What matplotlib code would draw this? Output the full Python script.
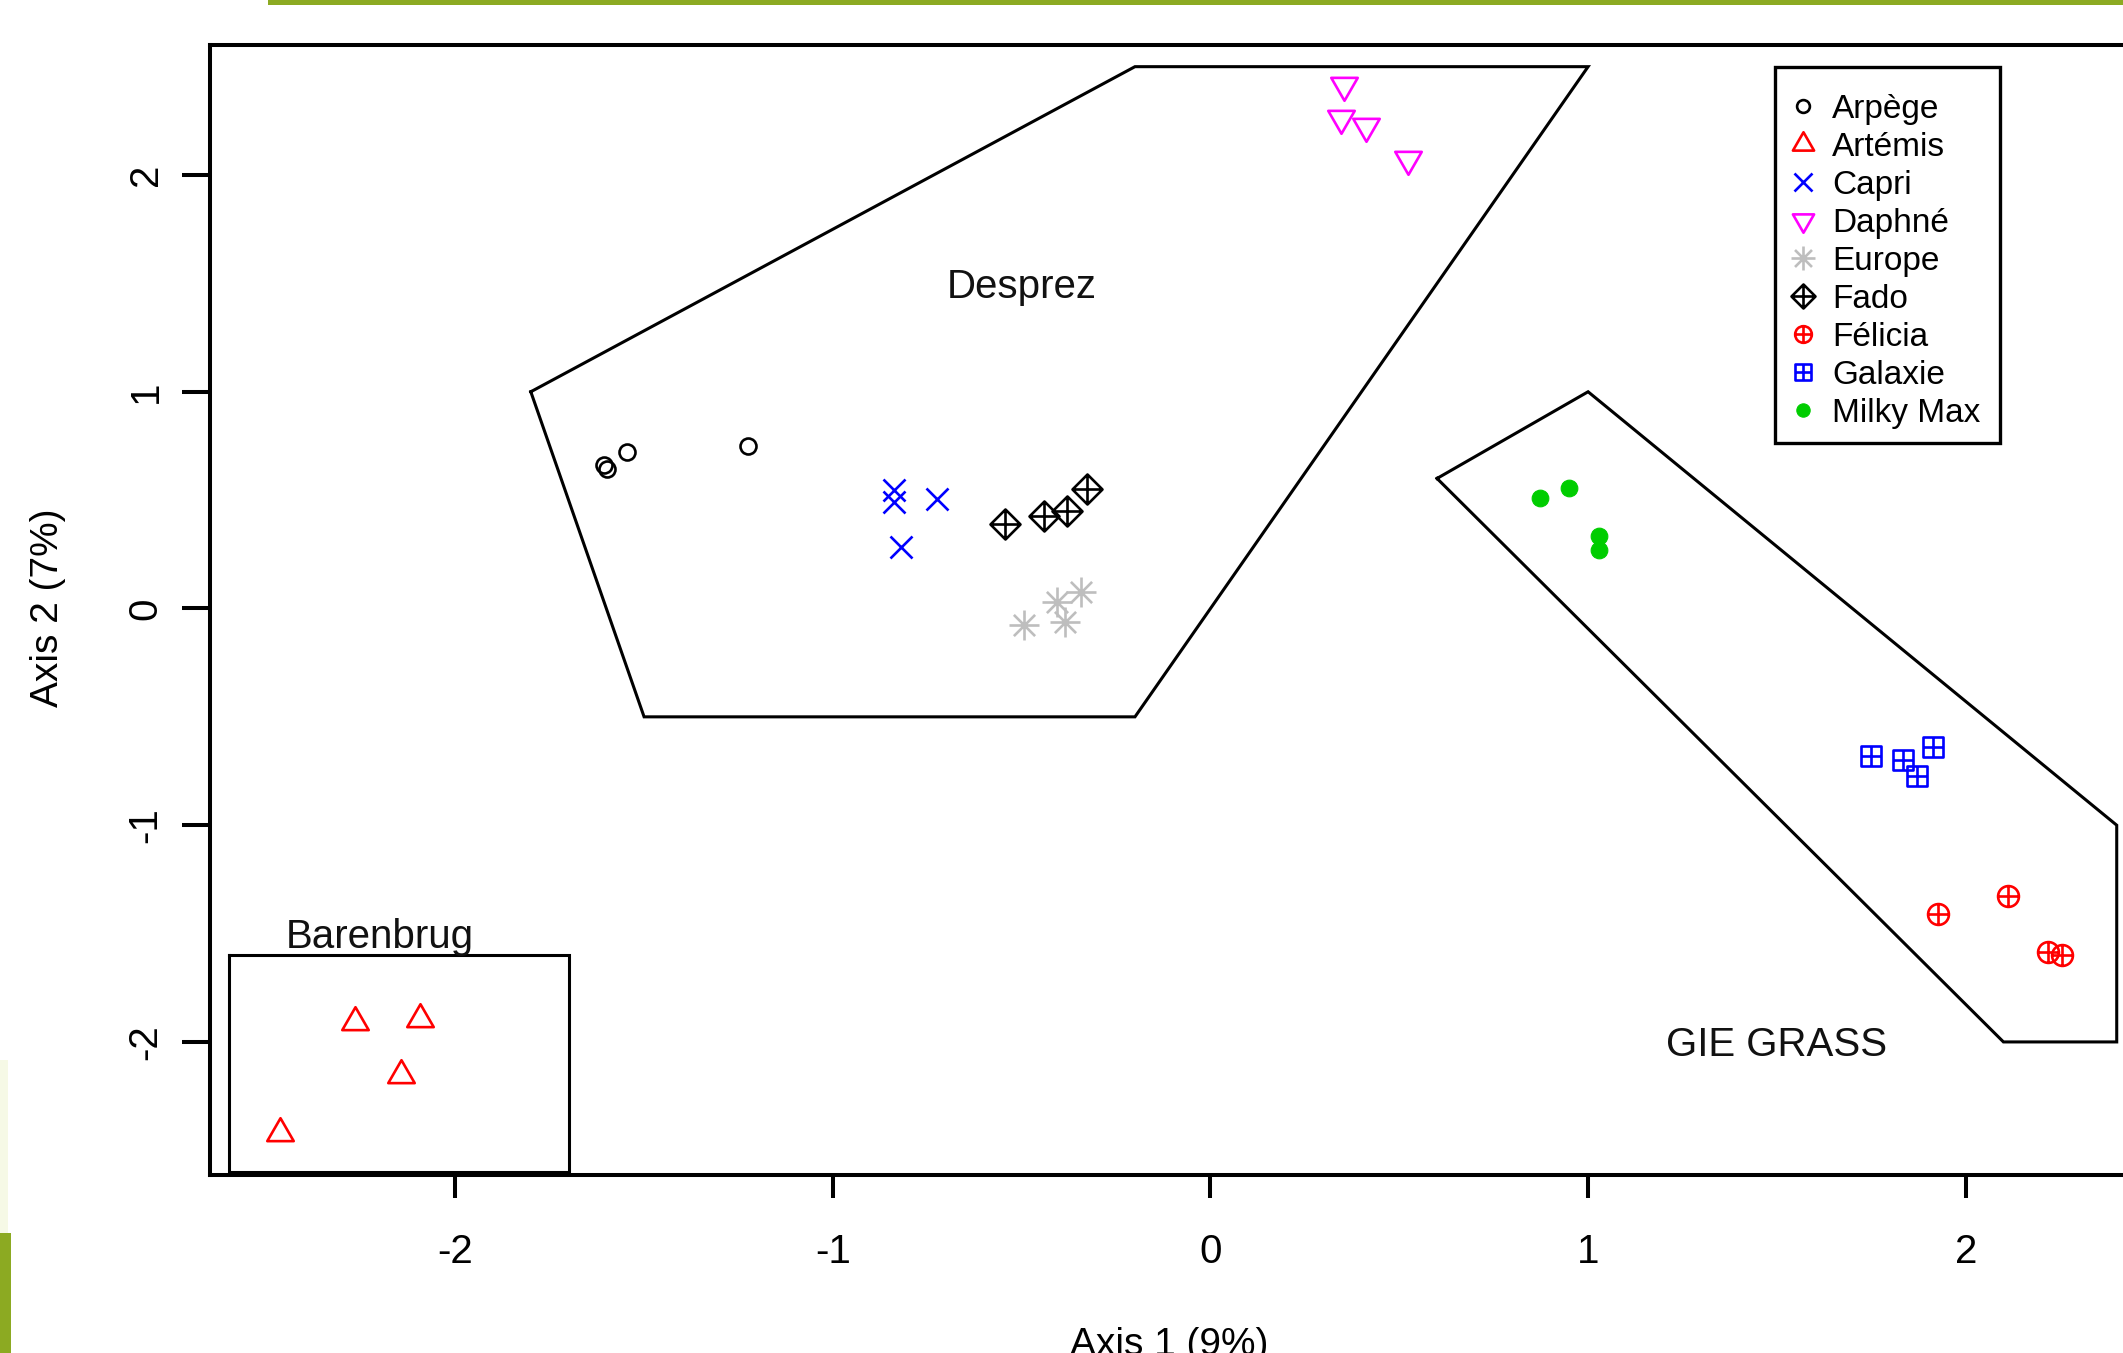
import numpy as np
import matplotlib
matplotlib.use('Agg')
import matplotlib.pyplot as plt
from matplotlib.path import Path
from matplotlib.patches import Rectangle

plt.rcParams['font.family'] = ['Liberation Sans', 'DejaVu Sans']
plt.rcParams['axes.unicode_minus'] = False

# ---------------- data ----------------
arpege_x = [-1.607, -1.598, -1.546, -1.224]
arpege_y = [0.664, 0.644, 0.724, 0.751]
artemis_x = [-2.266, -2.094, -2.145, -2.464]
artemis_y = [-1.910, -1.892, -2.151, -2.419]
capri_x = [-0.837, -0.837, -0.725, -0.820]
capri_y = [0.547, 0.493, 0.505, 0.285]
daphne_x = [0.354, 0.346, 0.412, 0.523]
daphne_y = [2.416, 2.265, 2.226, 2.074]
europe_x = [-0.493, -0.406, -0.384, -0.344]
europe_y = [-0.076, 0.031, -0.061, 0.078]
fado_x = [-0.543, -0.441, -0.380, -0.328]
fado_y = [0.390, 0.427, 0.450, 0.550]
felicia_x = [1.927, 2.112, 2.218, 2.256]
felicia_y = [-1.409, -1.326, -1.586, -1.600]
galaxie_x = [1.748, 1.834, 1.870, 1.914]
galaxie_y = [-0.682, -0.699, -0.775, -0.637]
milky_x = [0.872, 0.950, 1.029, 1.029]
milky_y = [0.511, 0.558, 0.334, 0.269]

desprez_poly_x = [-1.8, -0.2, 1.0, -0.2, -1.5, -1.8]
desprez_poly_y = [1.0, 2.5, 2.5, -0.5, -0.5, 1.0]
gie_poly_x = [0.6, 1.0, 2.4, 2.4, 2.1, 0.6]
gie_poly_y = [0.6, 1.0, -1.0, -2.0, -2.0, 0.6]
baren_poly_x = [-2.6, -1.7, -1.7, -2.6, -2.6]
baren_poly_y = [-1.6, -1.6, -2.6, -2.6, -1.6]

group_labels = ['Desprez', 'Barenbrug', 'GIE GRASS']
group_label_x = [-0.5, -2.2, 1.5]
group_label_y = [1.5, -1.5, -2.0]

xticks = [-2, -1, 0, 1, 2]
yticks = [-2, -1, 0, 1, 2]

# ---------------- markers ----------------
M, L = Path.MOVETO, Path.LINETO
tri_up = Path([(0, 1), (-0.866, -0.5), (0.866, -0.5), (0, 1)], [M, L, L, Path.CLOSEPOLY])
tri_dn = Path([(0, -1), (-0.866, 0.5), (0.866, 0.5), (0, -1)], [M, L, L, Path.CLOSEPOLY])
plus_p = Path([(-1, 0), (1, 0), (0, -1), (0, 1)], [M, L, M, L])
s = 0.7071
aster = Path([(-1, 0), (1, 0), (0, -1), (0, 1), (-s, -s), (s, s), (-s, s), (s, -s)],
             [M, L, M, L, M, L, M, L])
diamond = Path([(0, 1), (1, 0), (0, -1), (-1, 0), (0, 1)], [M, L, L, L, Path.CLOSEPOLY])
diamond_plus = Path.make_compound_path(diamond, plus_p)
circle_plus = Path.make_compound_path(Path.unit_circle(), plus_p)
square = Path([(-1, -1), (1, -1), (1, 1), (-1, 1), (-1, -1)], [M, L, L, L, Path.CLOSEPOLY])
square_plus = Path.make_compound_path(square, plus_p)

W, H = 2123, 1353
fig = plt.figure(figsize=(W / 100, H / 100), dpi=100)
fig.patch.set_facecolor('white')

def fx(px):
    return px / W

def fy(py):
    return 1 - py / H

# slide decorations
fig.patches.append(Rectangle((fx(268), fy(5)), 1 - fx(268), 5 / H, transform=fig.transFigure,
                             facecolor='#8CAA22', edgecolor='none', zorder=0))
fig.patches.append(Rectangle((0, 0), fx(8), fy(1060), transform=fig.transFigure,
                             facecolor='#F6F9E6', edgecolor='none', zorder=0))
fig.patches.append(Rectangle((0, 0), fx(11), fy(1233), transform=fig.transFigure,
                             facecolor='#8CAA22', edgecolor='none', zorder=0))

ax = fig.add_axes([fx(210), fy(1175), (2129 - 210) / W, (1175 - 45) / H])
ax.set_xlim(-2.6496, 2.4325)
ax.set_ylim(-2.614, 2.600)

mew = 1.9
series = [
    ('Arpège', arpege_x, arpege_y, 'o', 11.5, 'black', False),
    ('Artémis', artemis_x, artemis_y, tri_up, 22, '#FF0000', False),
    ('Capri', capri_x, capri_y, 'x', 15.8, '#0000FF', False),
    ('Daphné', daphne_x, daphne_y, tri_dn, 22, '#FF00FF', False),
    ('Europe', europe_x, europe_y, aster, 21.6, '#BEBEBE', False),
    ('Fado', fado_x, fado_y, diamond_plus, 21.6, 'black', False),
    ('Félicia', felicia_x, felicia_y, circle_plus, 15, '#FF0000', False),
    ('Galaxie', galaxie_x, galaxie_y, square_plus, 14.4, '#0000FF', False),
    ('Milky Max', milky_x, milky_y, 'o', 12.0, '#00CD00', True),
]
for name, xs, ys, mk, ms, col, filled in series:
    ax.plot(xs, ys, linestyle='none', marker=mk, markersize=ms,
            markerfacecolor=col if filled else 'none', markeredgecolor=col,
            markeredgewidth=mew if not filled else 0.8, label=name, zorder=3)

for px_, py_ in [(desprez_poly_x, desprez_poly_y), (gie_poly_x, gie_poly_y),
                 (baren_poly_x, baren_poly_y)]:
    ax.plot(px_, py_, color='black', linewidth=2.2, solid_joinstyle='miter', zorder=2)

cap_half = 0.716 * 29 / 2
for lab, lx, ly in zip(group_labels, group_label_x, group_label_y):
    ax.annotate(lab, (lx, ly), xytext=(0, -cap_half), textcoords='offset points',
                ha='center', va='baseline', fontsize=29, color='#111111')

for sp in ax.spines.values():
    sp.set_linewidth(2.9)
ax.set_xticks(xticks)
ax.set_xticklabels([str(t) for t in xticks])
ax.set_yticks(yticks)
ax.set_yticklabels([str(t) for t in yticks], rotation=90, va='center')
ax.tick_params(axis='x', direction='out', length=16.5, width=2.9, labelsize=29, pad=25)
ax.tick_params(axis='y', direction='out', length=20, width=2.9, labelsize=29, pad=12.6)

fig.text(fx(1169.5), fy(1326.7), 'Axis 1 (9%)', ha='center', va='top', fontsize=28)
fig.text(fx(30), fy(608), 'Axis 2 (7%)', ha='left', va='center', rotation=90, fontsize=28)

# legend box drawn at its measured place, entries placed inside it
box = Rectangle((fx(1775), fy(442.7)), (2000 - 1775) / W, (442.7 - 66.7) / H,
                transform=fig.transFigure, facecolor='white', edgecolor='black',
                linewidth=2.4, zorder=4, clip_on=False)
ax.add_patch(box)
leg = ax.legend(loc='upper left', bbox_to_anchor=(fx(1775), fy(74.8)),
                bbox_transform=fig.transFigure, borderaxespad=0, fontsize=24,
                markerscale=0.8, numpoints=1, handlelength=0.52, handletextpad=0.61,
                labelspacing=0.21, borderpad=0.58, frameon=False)
leg.set_zorder(6)

fig.savefig('out.png', dpi=100, facecolor='white')
